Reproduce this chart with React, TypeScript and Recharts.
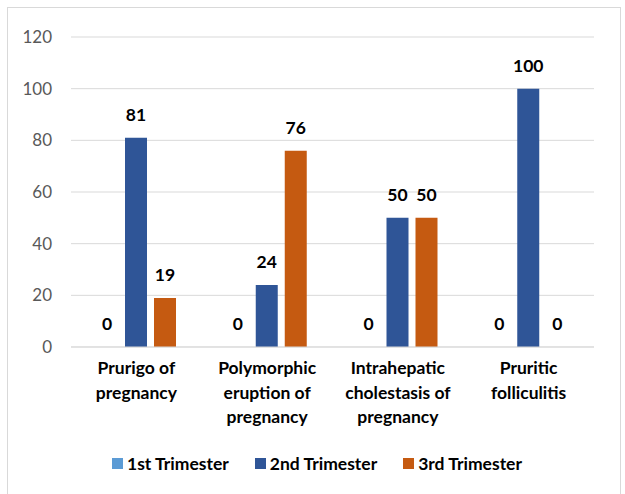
import React from "react";
import { BarChart, Bar, XAxis, YAxis, CartesianGrid, Legend, LabelList } from "recharts";

const categories = [
  "Prurigo of\npregnancy",
  "Polymorphic\neruption of\npregnancy",
  "Intrahepatic\ncholestasis of\npregnancy",
  "Pruritic\nfolliculitis",
];
const firstTrimester = [0, 0, 0, 0];
const secondTrimester = [81, 24, 50, 100];
const thirdTrimester = [19, 76, 50, 0];
const yTicks = [0, 20, 40, 60, 80, 100, 120];

const data = categories.map((c, i) => ({
  name: c,
  first: firstTrimester[i],
  second: secondTrimester[i],
  third: thirdTrimester[i],
}));

const FONT = "Lato, 'Open Sans', sans-serif";

const CategoryTick = (props: any) => {
  const { x, y, payload } = props;
  const lines = String(payload.value).split("\n");
  return (
    <text x={x} y={y} textAnchor="middle" fontFamily={FONT} fontWeight={700} fontSize={17.5} fill="#000">
      {lines.map((l, i) => (
        <tspan key={i} x={x} dy={i === 0 ? 27 : 24.5}>
          {l}
        </tspan>
      ))}
    </text>
  );
};

const LegendContent = (props: any) => {
  const { payload } = props;
  return (
    <div style={{ display: "flex", justifyContent: "center", alignItems: "center", height: 20, paddingLeft: 40, fontFamily: FONT, fontWeight: 700, fontSize: 17.5, color: "#000" }}>
      {(payload || []).map((p: any, i: number) => (
        <div key={i} style={{ display: "flex", alignItems: "center", marginRight: i < payload.length - 1 ? 26 : 0 }}>
          <div style={{ width: 11, height: 11, background: p.color, marginRight: 4 }} />
          <span>{p.value}</span>
        </div>
      ))}
    </div>
  );
};

const labelStyle = { fontFamily: FONT, fontWeight: 700, fontSize: 17.5, fill: "#000" };

export default function App() {
  return (
    <div style={{ position: "absolute", left: 0, top: 0, width: 625, height: 494, background: "#fff", overflow: "hidden" }}>
      <div style={{ position: "absolute", left: 7, top: 7, width: 614, height: 500, border: "1px solid #D9D9D9", boxSizing: "border-box" }} />
      <div style={{ position: "absolute", left: 0, top: 0 }}>
        <BarChart
          width={625}
          height={494}
          data={data}
          margin={{ top: 37, right: 31, left: 0, bottom: 21 }}
          barSize={22}
          barGap={7}
        >
          <CartesianGrid vertical={false} stroke="#D9D9D9" />
          <XAxis
            dataKey="name"
            interval={0}
            height={106}
            tickLine={false}
            tickSize={0}
            tickMargin={0}
            axisLine={{ stroke: "#D9D9D9" }}
            tick={<CategoryTick />}
          />
          <YAxis
            width={71}
            domain={[0, 120]}
            ticks={yTicks}
            axisLine={false}
            tickLine={false}
            tickSize={0}
            tickMargin={19}
            tick={{ fontFamily: FONT, fontSize: 17, fill: "#595959" }}
          />
          <Legend verticalAlign="bottom" content={<LegendContent />} />
          <Bar dataKey="first" name="1st Trimester" fill="#5B9BD5" minPointSize={0.01} isAnimationActive={false}>
            <LabelList dataKey="first" position="top" offset={17} style={labelStyle} />
          </Bar>
          <Bar dataKey="second" name="2nd Trimester" fill="#2F5597" minPointSize={0.01} isAnimationActive={false}>
            <LabelList dataKey="second" position="top" offset={17} style={labelStyle} />
          </Bar>
          <Bar dataKey="third" name="3rd Trimester" fill="#C55A11" minPointSize={0.01} isAnimationActive={false}>
            <LabelList dataKey="third" position="top" offset={17} style={labelStyle} />
          </Bar>
        </BarChart>
      </div>
    </div>
  );
}
